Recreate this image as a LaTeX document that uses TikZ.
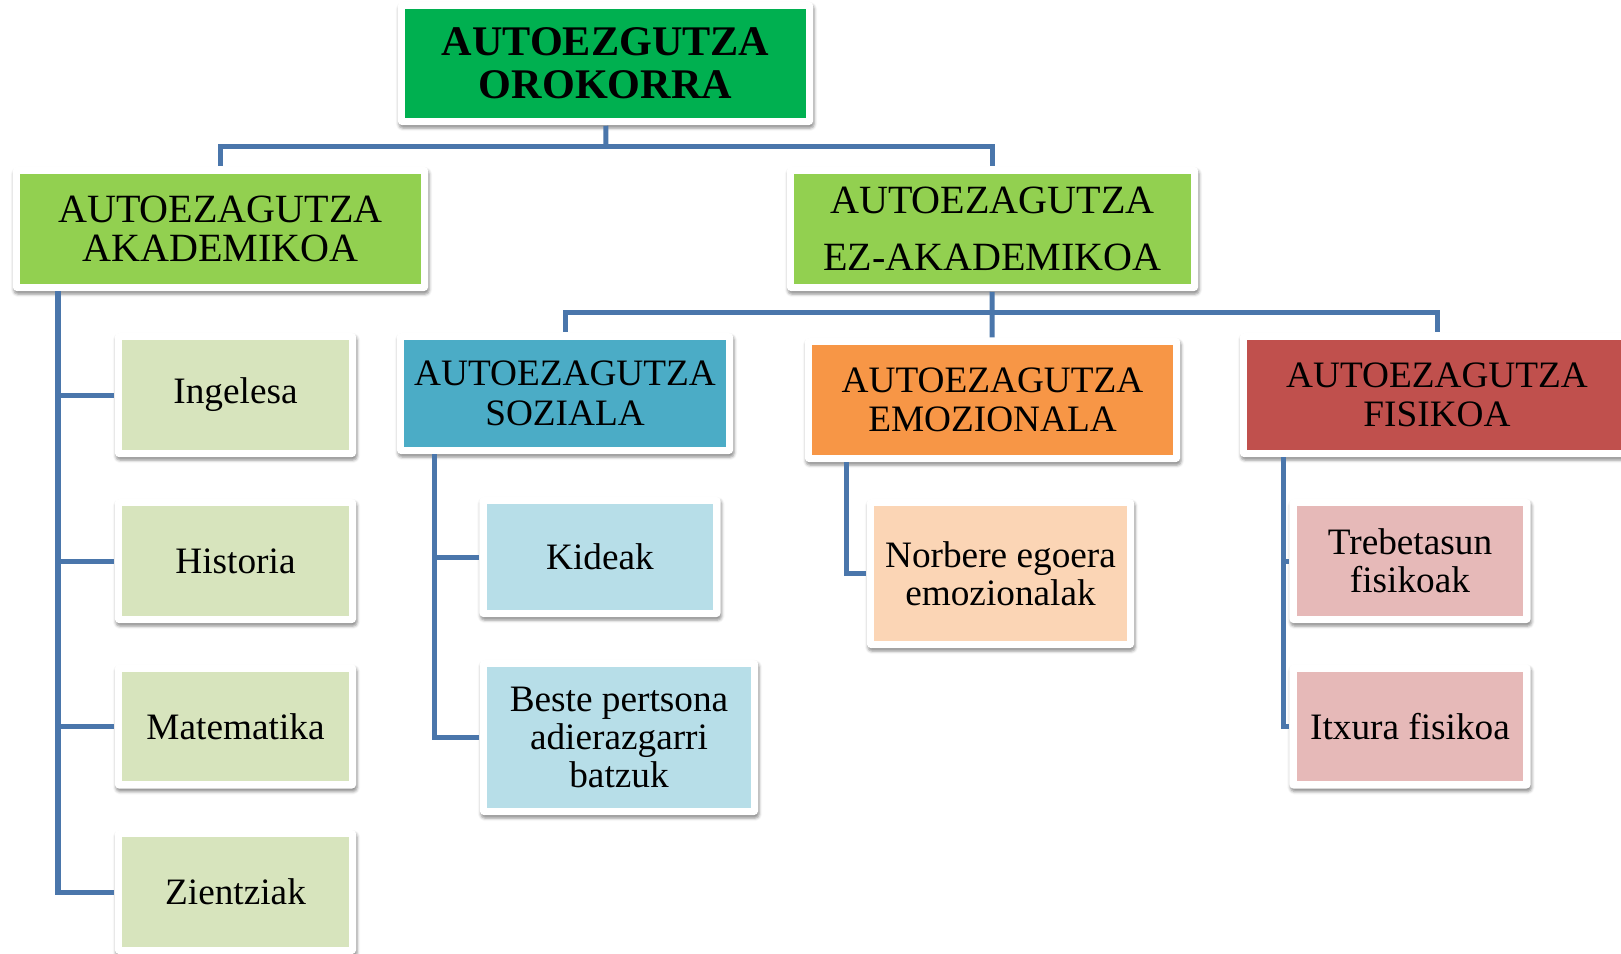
\documentclass[tikz,border=0pt]{standalone}
\usepackage{fontspec}
\setmainfont{Liberation Serif}
\usetikzlibrary{shadows.blur}
\definecolor{topgreen}{HTML}{00B050}
\definecolor{midgreen}{HTML}{92D050}
\definecolor{akadleaf}{HTML}{D7E4BD}
\definecolor{socblue}{HTML}{4BACC6}
\definecolor{socleaf}{HTML}{B7DEE8}
\definecolor{emoorange}{HTML}{F79646}
\definecolor{emoleaf}{HTML}{FBD5B5}
\definecolor{fisred}{HTML}{C0504D}
\definecolor{fisleaf}{HTML}{E6B9B8}
\definecolor{linkblue}{HTML}{4A76AB}

\begin{document}
\begin{tikzpicture}[x=0.01cm, y=-0.01cm,
	box/.style={fill=white, rounded corners=0.04cm, inner sep=0pt, align=center,
		blur shadow={shadow xshift=0.01cm, shadow yshift=-0.03cm, shadow blur radius=0.03cm, shadow opacity=45},
		path picture={\fill[#1, sharp corners] ([shift={(0.075cm,0.075cm)}]path picture bounding box.south west) rectangle ([shift={(-0.075cm,-0.075cm)}]path picture bounding box.north east);}},
	head/.style={box=#1, font=\fontsize{11.4}{11.3}\selectfont},
	branch/.style={box=#1, font=\fontsize{10.6}{11.2}\selectfont},
	leaf/.style={box=#1, minimum width=2.41cm, minimum height=1.24cm, font=\fontsize{10.6}{10.8}\selectfont},
	link/.style={draw=linkblue, line width=0.05cm}]
	\useasboundingbox (0,0) rectangle (1621,953);
	\clip (0,0) rectangle (1621,953);
	% top and first level
	\node[box=topgreen, minimum width=4.15cm, minimum height=1.23cm, font=\fontsize{12}{12.2}\selectfont\bfseries] (top) at (605.5,63.5) {AUTOEZGUTZA\\OROKORRA};
	\node[head=midgreen, minimum width=4.15cm, minimum height=1.24cm] (akad) at (220.5,229) {AUTOEZAGUTZA\\AKADEMIKOA};
	\node[head=midgreen, minimum width=4.11cm, minimum height=1.24cm, font=\fontsize{11.4}{16.2}\selectfont] (ezakad) at (992.5,229) {AUTOEZAGUTZA\\EZ-AKADEMIKOA};
	% second level
	\node[branch=socblue, minimum width=3.36cm, minimum height=1.21cm] (soz) at (565,393.5) {AUTOEZAGUTZA\\SOZIALA};
	\node[branch=emoorange, minimum width=3.75cm, minimum height=1.24cm] (emoz) at (992.5,400) {AUTOEZAGUTZA\\EMOZIONALA};
	\node[branch=fisred, minimum width=3.94cm, minimum height=1.24cm] (fis) at (1437,395) {AUTOEZAGUTZA\\FISIKOA};
	% leaves
	\node[leaf=akadleaf] (ing) at (235.5,395) {Ingelesa};
	\node[leaf=akadleaf] (hist) at (235.5,561) {Historia};
	\node[leaf=akadleaf] (mat) at (235.5,726.5) {Matematika};
	\node[leaf=akadleaf] (zien) at (235.5,892) {Zientziak};
	\node[leaf=socleaf, minimum height=1.20cm] (kid) at (600,557) {Kideak};
	\node[leaf=socleaf, minimum width=2.78cm, minimum height=1.55cm] (beste) at (619,737.5) {Beste pertsona\\adierazgarri\\batzuk};
	\node[leaf=emoleaf, minimum width=2.67cm, minimum height=1.49cm] (norb) at (1000.5,573.5) {Norbere egoera\\emozionalak};
	\node[leaf=fisleaf] (treb) at (1410,561) {Trebetasun\\fisikoak};
	\node[leaf=fisleaf] (itx) at (1410,726.5) {Itxura fisikoa};
	% connectors
	\coordinate (topj) at (606,146);
	\coordinate (ezj) at (992,312);
	\coordinate (akadL) at (58,291);
	\coordinate (sozL) at (434,454);
	\coordinate (emoL) at (846,462);
	\coordinate (fisL) at (1283,457);
	\draw[link] (top) -- (topj);
	\draw[link] (topj) -| (akad);
	\draw[link] (topj) -| (ezakad);
	\draw[link] (ezakad) -- (ezj);
	\draw[link] (ezj) -| (soz);
	\draw[link] (ezj) -- (emoz);
	\draw[link] (ezj) -| (fis);
	\draw[link] (akadL) |- (ing);
	\draw[link] (akadL) |- (hist);
	\draw[link] (akadL) |- (mat);
	\draw[link] (akadL) |- (zien);
	\draw[link] (sozL) |- (kid);
	\draw[link] (sozL) |- (beste);
	\draw[link] (emoL) |- (norb);
	\draw[link] (fisL) |- (treb);
	\draw[link] (fisL) |- (itx);
\end{tikzpicture}
\end{document}
